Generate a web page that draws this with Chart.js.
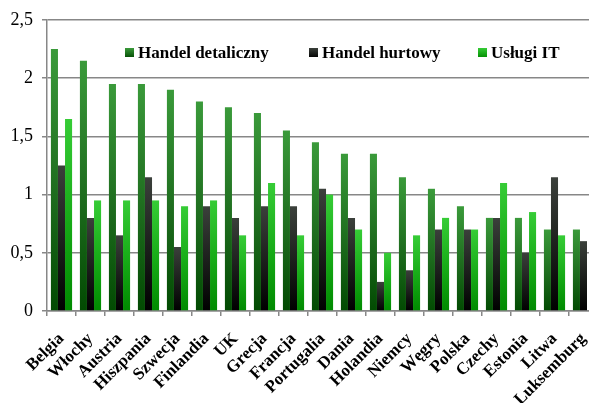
<!DOCTYPE html>
<html>
<head>
<meta charset="utf-8">
<script src="https://cdn.jsdelivr.net/npm/chart.js@4"></script>
<style>
  html, body { margin: 0; padding: 0; background: #fff; overflow: hidden; }
  #wrap { width: 612px; height: 403px; }
</style>
</head>
<body>
<div id="wrap"><canvas id="chart" width="612" height="403"></canvas></div>
<script>
// ─── Dane ─────────────────────────────────
const kraje = ['Belgia', 'Włochy', 'Austria', 'Hiszpania', 'Szwecja', 'Finlandia', 'UK', 'Grecja', 'Francja',
  'Portugalia', 'Dania', 'Holandia', 'Niemcy', 'Węgry', 'Polska', 'Czechy', 'Estonia', 'Litwa', 'Luksemburg'];
const detaliczny = [2.25, 2.15, 1.95, 1.95, 1.9, 1.8, 1.75, 1.7, 1.55, 1.45, 1.35, 1.35, 1.15, 1.05, 0.9, 0.8, 0.8, 0.7, 0.7];
const hurtowy    = [1.25, 0.8, 0.65, 1.15, 0.55, 0.9, 0.8, 0.9, 0.9, 1.05, 0.8, 0.25, 0.35, 0.7, 0.7, 0.8, 0.5, 1.15, 0.6];
// ostatnia wartość (Luksemburg) nie jest widoczna na obrazku
const uslugiIT   = [1.65, 0.95, 0.95, 0.95, 0.9, 0.95, 0.65, 1.1, 0.65, 1.0, 0.7, 0.5, 0.65, 0.8, 0.7, 1.1, 0.85, 0.65, null];
const seriaNazwy = ['Handel detaliczny', 'Handel hurtowy', 'Usługi IT'];

// gradient: góra -> dół
const gradienty = [
  ['#3a9a3a', '#1e6c1e', '#024a02'],
  ['#3b403b', '#1a1d1a', '#000000'],
  ['#36cc36', '#16aa16', '#008a00']
];

const SERIF = '"Liberation Serif", "Times New Roman", serif';
const GRID = '#878787';

function wypelnienie(stops) {
  return ctx => {
    const chart = ctx.chart;
    if (!chart.chartArea || ctx.type !== 'data' || ctx.raw == null) return stops[1];
    const y = chart.scales.y;
    const top = y.getPixelForValue(ctx.raw);
    const base = y.getPixelForValue(0);
    if (!(base > top)) return stops[1];
    const g = chart.ctx.createLinearGradient(0, top, 0, base);
    g.addColorStop(0, stops[0]);
    g.addColorStop(0.55, stops[1]);
    g.addColorStop(1, stops[2]);
    return g;
  };
}

// ─── Legenda w obszarze wykresu ───────────
const legendaX = [125, 309, 478];
const legendaPlugin = {
  id: 'legendaWewn',
  afterDraw(chart) {
    const c = chart.ctx;
    const yMid = 53;
    c.save();
    c.font = 'bold 17px ' + SERIF;
    c.textBaseline = 'middle';
    seriaNazwy.forEach((n, i) => {
      const x = legendaX[i];
      const g = c.createLinearGradient(0, yMid - 5, 0, yMid + 5);
      g.addColorStop(0, gradienty[i][0]);
      g.addColorStop(1, gradienty[i][2]);
      c.fillStyle = g;
      c.fillRect(x, yMid - 5, 9, 9);
      c.fillStyle = '#000';
      c.fillText(n, x + 13, yMid + 1);
    });
    c.restore();
  }
};

new Chart(document.getElementById('chart'), {
  type: 'bar',
  data: {
    labels: kraje,
    datasets: [
      { label: seriaNazwy[0], data: detaliczny, backgroundColor: wypelnienie(gradienty[0]) },
      { label: seriaNazwy[1], data: hurtowy, backgroundColor: wypelnienie(gradienty[1]) },
      { label: seriaNazwy[2], data: uslugiIT, backgroundColor: wypelnienie(gradienty[2]) }
    ]
  },
  options: {
    responsive: false,
    animation: false,
    events: [],
    datasets: { bar: { categoryPercentage: 0.73, barPercentage: 1, borderWidth: 0 } },
    layout: { padding: { top: 20, right: 14, left: 0, bottom: 0 } },
    plugins: { legend: { display: false }, tooltip: { enabled: false } },
    scales: {
      x: {
        grid: { display: true, drawOnChartArea: false, drawTicks: true, tickLength: 5, color: GRID, lineWidth: 1.5 },
        border: { color: GRID, width: 1.5 },
        ticks: {
          autoSkip: false, minRotation: 45, maxRotation: 45, padding: 13,
          color: '#000', font: { family: SERIF, size: 17, weight: 'bold' }
        },
        afterFit: s => { s.height = 92; }
      },
      y: {
        min: 0, max: 2.5,
        grid: { color: GRID, lineWidth: 1.5, tickLength: 5 },
        border: { color: GRID, width: 1.5 },
        ticks: {
          stepSize: 0.5, padding: 9, color: '#000',
          font: { family: SERIF, size: 18 },
          callback: v => String(v).replace('.', ',')
        },
        afterFit: s => { s.width = 47; }
      }
    }
  },
  plugins: [legendaPlugin]
});
</script>
</body>
</html>
